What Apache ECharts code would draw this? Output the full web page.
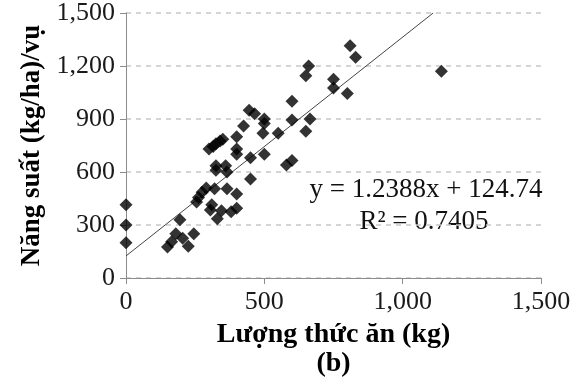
<!DOCTYPE html>
<html>
<head>
<meta charset="utf-8">
<script src="https://cdn.jsdelivr.net/npm/echarts@6/dist/echarts.min.js"></script>
<style>html,body{margin:0;padding:0;background:#fff;}#c{width:579px;height:384px;}</style>
</head>
<body>
<div id="c"></div>
<script>
// Feed amount (kg)
const feedKg = [0, 0, 0, 150, 165, 180, 195, 205, 225, 245,
  255, 262, 275, 290, 300, 315, 325, 340, 350,
  310, 305, 320, 330, 345, 325, 325, 360, 365, 365, 380, 400, 400,
  400, 400, 400, 425, 445, 465, 450, 450, 500, 500, 495, 500, 550,
  580, 600, 600, 600, 650, 660, 650, 665, 750, 750, 800, 810, 830, 1140];
// Yield (kg/ha)/crop
const yieldKg = [415, 300, 200, 175, 205, 250, 330, 225, 180, 250,
  430, 455, 485, 510, 730, 745, 760, 775, 785,
  415, 385, 505, 335, 380, 635, 610, 635, 600, 505, 375, 475, 395,
  730, 700, 800, 860, 950, 930, 680, 560, 900, 875, 820, 700, 820,
  640, 665, 1000, 895, 1145, 1200, 830, 900, 1125, 1075, 1045, 1315, 1250, 1170];
// Linear trendline y = 1.2388x + 124.74
const trendSlope = 1.2388;
const trendIntercept = 124.74;
const yMax = 1500;
const xTicks = [0, 500, 1000, 1500];
const yTicks = [0, 300, 600, 900, 1200, 1500];
const equationText = 'y = 1.2388x + 124.74';
const r2Text = 'R² = 0.7405';

const points = feedKg.map((x, i) => [x, yieldKg[i]]);
const trendEndX = (yMax - trendIntercept) / trendSlope;
const trend = [[0, trendIntercept], [trendEndX, yMax]];
const fmt = v => v.toLocaleString('en-US');
const serif = '"Liberation Serif", "Times New Roman", serif';

const chart = echarts.init(document.getElementById('c'), null, {renderer: 'canvas'});
chart.setOption({
  animation: false,
  backgroundColor: '#fff',
  grid: {left: 126, right: 38, top: 13, bottom: 106},
  xAxis: {
    type: 'value', min: xTicks[0], max: xTicks[xTicks.length - 1], interval: 500,
    name: 'Lượng thức ăn (kg)\n(b)', nameLocation: 'middle', nameGap: 39,
    nameTextStyle: {fontFamily: serif, fontWeight: 'bold', fontSize: 28, color: '#000', lineHeight: 29, verticalAlign: 'top'},
    axisLine: {show: true, lineStyle: {color: '#8c8c8c', width: 1}},
    axisTick: {show: true, length: 6, lineStyle: {color: '#8c8c8c'}},
    axisLabel: {formatter: fmt, fontFamily: serif, fontSize: 26, color: '#1a1a1a', margin: 11},
    splitLine: {show: false}
  },
  yAxis: {
    type: 'value', min: yTicks[0], max: yMax, interval: 300,
    name: 'Năng suất (kg/ha)/vụ', nameLocation: 'middle', nameGap: 78, nameRotate: 90,
    nameTextStyle: {fontFamily: serif, fontWeight: 'bold', fontSize: 27, color: '#000'},
    axisLine: {show: true, lineStyle: {color: '#8c8c8c', width: 1}},
    axisTick: {show: true, length: 6, lineStyle: {color: '#8c8c8c'}},
    axisLabel: {formatter: fmt, fontFamily: serif, fontSize: 26, color: '#1a1a1a', margin: 11},
    splitLine: {show: true, lineStyle: {color: '#c8c8c8', type: [5, 5], width: 1.5}}
  },
  series: [
    {
      type: 'line', data: trend, symbol: 'none', z: 2,
      lineStyle: {color: '#444', width: 1}
    },
    {
      type: 'scatter', data: points, symbol: 'diamond', symbolSize: 13, z: 3,
      itemStyle: {color: '#000'}
    }
  ],
  graphic: [
    {type: 'text', position: [426, 190], style: {text: equationText, fontFamily: serif, fontSize: 27, fill: '#111', textAlign: 'center', textVerticalAlign: 'middle'}},
    {type: 'text', position: [424, 222], style: {text: r2Text, fontFamily: serif, fontSize: 27, fill: '#111', textAlign: 'center', textVerticalAlign: 'middle'}}
  ]
});
</script>
</body>
</html>
